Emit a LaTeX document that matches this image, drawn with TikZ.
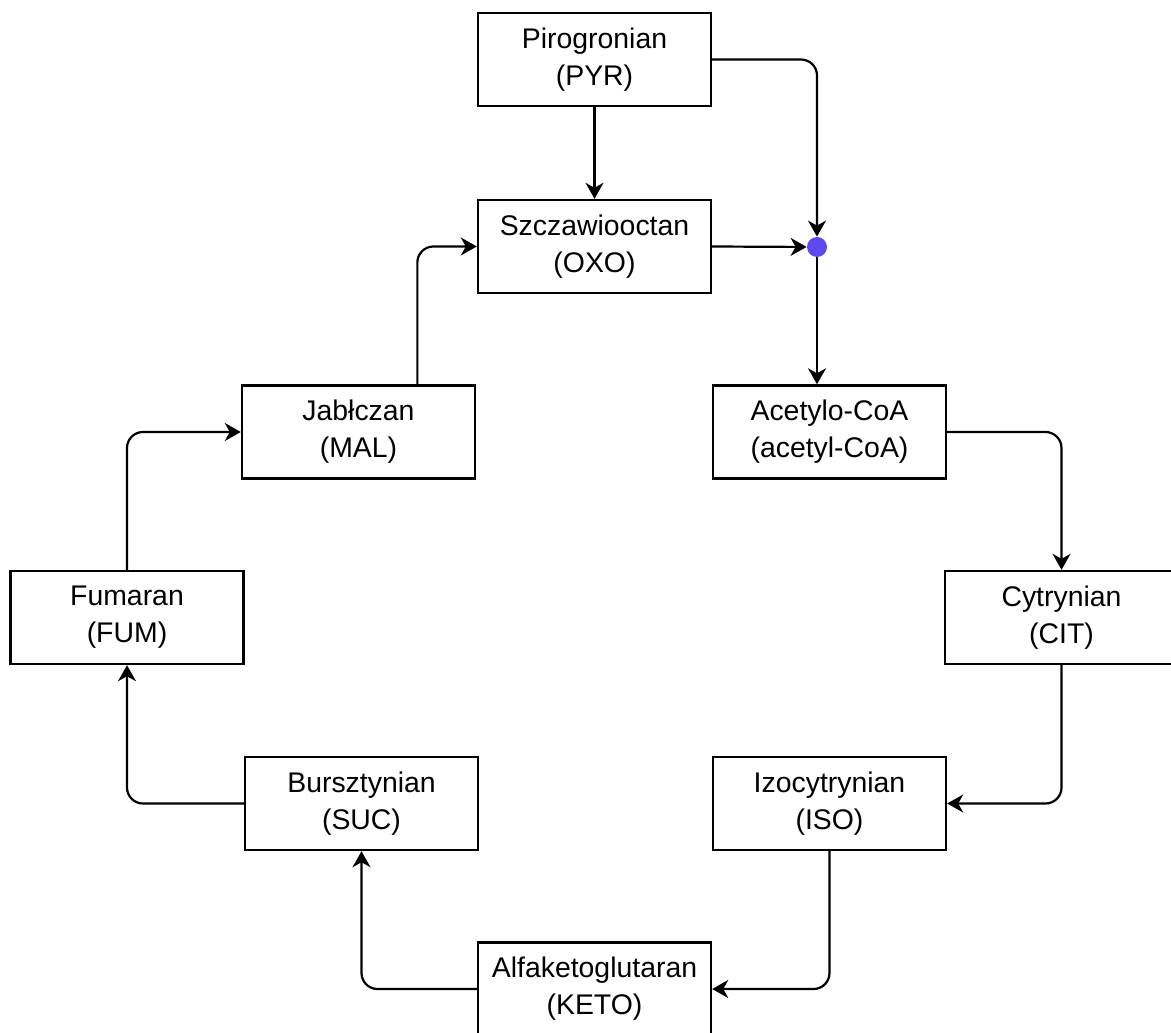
\documentclass[tikz,border=0pt]{standalone}
\usepackage{fontspec}
\setmainfont{Liberation Sans}
\usetikzlibrary{arrows.meta,calc}
\definecolor{joinblue}{RGB}{92,74,240}
\begin{document}
\begin{tikzpicture}[x=0.5pt,y=-0.5pt,
  box/.style={draw=black, line width=1.2pt, minimum width=116.5pt, minimum height=46.5pt,
    align=center, inner sep=0pt, font=\fontsize{14.2}{18.5}\selectfont},
  flow/.style={draw=black, line width=1.1pt, rounded corners=8pt,
    -{Stealth[length=8pt,width=9pt,inset=2.5pt]}},
  joint/.style={circle, fill=joinblue, minimum size=10pt, inner sep=0pt}]
\useasboundingbox (0,0) rectangle (1171,1032);
\fill[white] (0,0) rectangle (1171,1032);

% metabolites
\node[box] (pyr)  at (594.5,59.5)  {Pirogronian\\(PYR)};
\node[box] (oxo)  at (594.5,246.5) {Szczawiooctan\\(OXO)};
\node[box] (ace)  at (829.5,432)   {Acetylo-CoA\\(acetyl-CoA)};
\node[box] (mal)  at (358.5,432)   {Jabłczan\\(MAL)};
\node[box] (fum)  at (127,617.5)   {Fumaran\\(FUM)};
\node[box] (cit)  at (1061.5,617.5){Cytrynian\\(CIT)};
\node[box] (suc)  at (361.5,803.5) {Bursztynian\\(SUC)};
\node[box] (iso)  at (829.5,803.5) {Izocytrynian\\(ISO)};
\node[box] (keto) at (594.5,989)   {Alfaketoglutaran\\(KETO)};

% junction where pyruvate and oxaloacetate meet
\node[joint] (dot) at (817,247) {};

% connectors
\draw[flow] (pyr) -- (oxo);
\draw[flow] (pyr.east) -| (dot);
\draw[flow] (oxo.east) -- (dot);
\draw[flow] (dot) -- (dot |- ace.north);
\draw[flow] (ace.east) -| (cit);
\draw[flow] (cit) |- (iso);
\draw[flow] (iso) |- (keto);
\draw[flow] (keto) -| (suc);
\draw[flow] (suc) -| (fum);
\draw[flow] (fum) |- (mal);
\draw[flow] ($(mal.north west)!0.75!(mal.north east)$) |- (oxo.west);
\end{tikzpicture}
\end{document}
